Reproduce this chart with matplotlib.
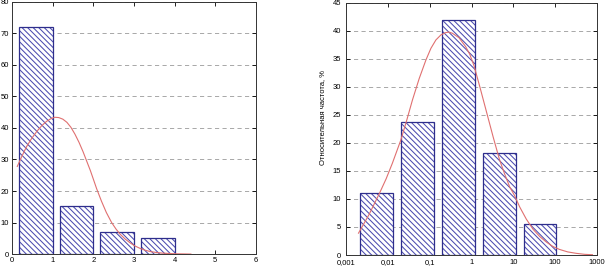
import numpy as np
import matplotlib
matplotlib.use('Agg')
from matplotlib import pyplot as plt

plt.rcParams['font.family'] = ['Liberation Sans', 'DejaVu Sans']
plt.rcParams['font.size'] = 5.5
plt.rcParams['hatch.linewidth'] = 0.75

# left histogram
left_lo = [0.17, 1.17, 2.17, 3.17]
left_hi = [1.0, 2.0, 3.0, 4.0]
left_h = [72, 15.3, 7.0, 5.2]
left_cx = [0.13, 0.25, 0.36, 0.48, 0.61, 0.73, 0.85, 0.95, 1.05, 1.15, 1.25, 1.35,
           1.45, 1.55, 1.65, 1.75, 1.84, 1.93, 2.0, 2.08, 2.2, 2.32, 2.45, 2.56,
           2.66, 2.78, 2.9, 3.02, 3.15, 3.28, 3.4, 3.55, 3.7, 3.85, 4.0, 4.2, 4.4]
left_cy = [27.8, 31.2, 34.1, 36.6, 38.9, 40.7, 42.1, 42.9, 43.4, 43.3, 42.8, 41.8,
           40.2, 38.0, 35.4, 32.4, 29.4, 26.4, 23.8, 20.8, 16.8, 13.2, 10.0, 7.9,
           6.3, 4.8, 3.6, 2.6, 1.8, 1.2, 0.8, 0.5, 0.3, 0.2, 0.1, 0.05, 0.0]

# right histogram (log x)
right_lo = [0.0022, 0.021, 0.2, 1.9, 18]
right_hi = [0.0135, 0.13, 1.23, 11.7, 107]
right_h = [11.0, 23.7, 42.0, 18.3, 5.5]
right_cx_exp = [0.30, 0.55, 0.80, 0.96, 1.11, 1.31, 1.45, 1.59, 1.75, 1.91, 2.03,
                2.15, 2.27, 2.38, 2.46, 2.54, 2.70, 2.86, 2.96, 3.06, 3.20, 3.36,
                3.52, 3.67, 3.79, 3.91, 4.03, 4.15, 4.31, 4.47, 4.63, 4.79, 4.95,
                5.10, 5.30, 5.50, 5.70, 5.89]
right_cy = [3.9, 7.2, 11.0, 13.6, 16.4, 20.5, 24.0, 27.7, 31.5, 34.8, 36.9,
            38.4, 39.3, 39.7, 39.8, 39.6, 38.8, 37.2, 35.8, 33.8, 30.0, 25.5,
            21.0, 17.0, 14.5, 12.2, 10.6, 8.6, 6.4, 4.6, 3.3, 2.3, 1.5,
            1.0, 0.55, 0.3, 0.12, 0.05]
right_ticks = [0.001, 0.01, 0.1, 1, 10, 100, 1000]
right_ticklabels = ['0,001', '0,01', '0,1', '1', '10', '100', '1000']

edge = '#2e2e8c'
hatchc = '#4c4cb0'
curve = '#e07070'

fig = plt.figure(figsize=(6.08, 2.68), dpi=100)
ax1 = fig.add_axes([0.0197, 0.052, 0.4013, 0.941])
ax2 = fig.add_axes([0.569, 0.0485, 0.413, 0.9405])

for ax in (ax1, ax2):
    ax.yaxis.grid(True, linestyle=(0, (5, 4)), color='#9a9a9a', linewidth=0.6)
    ax.set_axisbelow(True)
    ax.tick_params(direction='in', top=True, right=True, length=3, width=0.6, pad=2)
    for s in ax.spines.values():
        s.set_linewidth(0.7)
        s.set_color('#333333')
ax2.tick_params(axis='y', pad=3.5)
ax2.tick_params(axis='x', pad=3)

# hatched fill, then the darker outline on top
lo = np.array(left_lo)
hi = np.array(left_hi)
ax1.bar(lo, left_h, width=hi - lo, align='edge', color='white',
        edgecolor=hatchc, linewidth=0, hatch='\\' * 6, zorder=2)
ax1.bar(lo, left_h, width=hi - lo, align='edge', fill=False,
        edgecolor=edge, linewidth=0.9, zorder=2.5)
ax1.plot(left_cx, left_cy, color=curve, linewidth=0.8, zorder=3)
ax1.set_xlim(0, 6)
ax1.set_ylim(0, 80)
ax1.set_xticks(range(0, 7))
ax1.set_yticks(range(0, 81, 10))

lo = np.array(right_lo)
hi = np.array(right_hi)
ax2.set_xscale('log')
ax2.bar(lo, right_h, width=hi - lo, align='edge', color='white',
        edgecolor=hatchc, linewidth=0, hatch='\\' * 6, zorder=2)
ax2.bar(lo, right_h, width=hi - lo, align='edge', fill=False,
        edgecolor=edge, linewidth=0.9, zorder=2.5)
ax2.plot(10.0 ** (np.array(right_cx_exp) - 3), right_cy, color=curve,
         linewidth=0.8, zorder=3)
ax2.set_xlim(0.001, 1000)
ax2.set_ylim(0, 45)
ax2.set_xticks(right_ticks)
ax2.set_xticklabels(right_ticklabels)
ax2.minorticks_off()
ax2.set_yticks(range(0, 46, 5))
ax2.set_ylabel('Относительная частота, %')
ax2.yaxis.set_label_coords(-0.08, 0.544)

fig.savefig('out.png', dpi=100)
